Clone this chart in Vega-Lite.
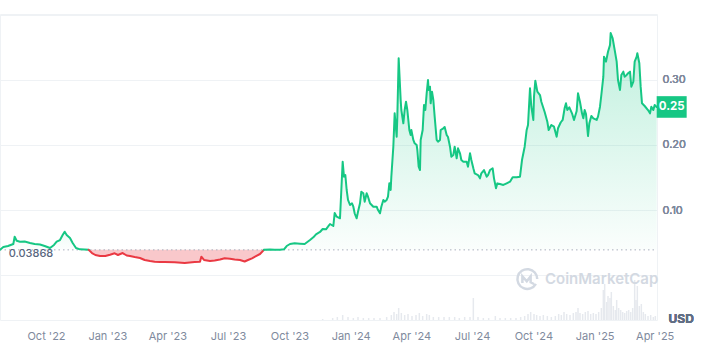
{
  "$schema": "https://vega.github.io/schema/vega-lite/v6.json",
  "width": 657,
  "height": 306,
  "autosize": {"type": "none"},
  "padding": {"left": 0, "top": 14, "right": 50, "bottom": 36},
  "background": "white",
  "config": {"view": {"stroke": "#eff2f5"}, "font": "Inter"},
  "data": {"values": [
      {"date": "2022-07-24", "price": 0.0388, "seg": "g1"},
      {"date": "2022-07-29", "price": 0.0431, "seg": "g1"},
      {"date": "2022-08-05", "price": 0.0446, "seg": "g1"},
      {"date": "2022-08-13", "price": 0.0477, "seg": "g1"},
      {"date": "2022-08-15", "price": 0.0589, "seg": "g1"},
      {"date": "2022-08-18", "price": 0.0528, "seg": "g1"},
      {"date": "2022-08-23", "price": 0.0512, "seg": "g1"},
      {"date": "2022-08-30", "price": 0.0515, "seg": "g1"},
      {"date": "2022-09-07", "price": 0.0492, "seg": "g1"},
      {"date": "2022-09-14", "price": 0.0477, "seg": "g1"},
      {"date": "2022-09-22", "price": 0.0469, "seg": "g1"},
      {"date": "2022-09-29", "price": 0.0446, "seg": "g1"},
      {"date": "2022-10-07", "price": 0.0415, "seg": "g1"},
      {"date": "2022-10-13", "price": 0.0462, "seg": "g1"},
      {"date": "2022-10-17", "price": 0.0512, "seg": "g1"},
      {"date": "2022-10-22", "price": 0.0538, "seg": "g1"},
      {"date": "2022-10-26", "price": 0.0615, "seg": "g1"},
      {"date": "2022-10-29", "price": 0.0666, "seg": "g1"},
      {"date": "2022-11-01", "price": 0.0615, "seg": "g1"},
      {"date": "2022-11-06", "price": 0.0569, "seg": "g1"},
      {"date": "2022-11-10", "price": 0.0492, "seg": "g1"},
      {"date": "2022-11-15", "price": 0.0415, "seg": "g1"},
      {"date": "2022-11-21", "price": 0.0395, "seg": "g1"},
      {"date": "2022-11-28", "price": 0.0392, "seg": "g1"},
      {"date": "2022-12-04", "price": 0.03868, "seg": "g1"},
      {"date": "2022-12-04", "price": 0.03868, "seg": "r"},
      {"date": "2022-12-09", "price": 0.0338, "seg": "r"},
      {"date": "2022-12-14", "price": 0.0308, "seg": "r"},
      {"date": "2022-12-21", "price": 0.0292, "seg": "r"},
      {"date": "2022-12-29", "price": 0.0292, "seg": "r"},
      {"date": "2023-01-05", "price": 0.0312, "seg": "r"},
      {"date": "2023-01-12", "price": 0.0334, "seg": "r"},
      {"date": "2023-01-17", "price": 0.0308, "seg": "r"},
      {"date": "2023-01-24", "price": 0.0338, "seg": "r"},
      {"date": "2023-01-30", "price": 0.0300, "seg": "r"},
      {"date": "2023-02-04", "price": 0.0292, "seg": "r"},
      {"date": "2023-02-11", "price": 0.0277, "seg": "r"},
      {"date": "2023-02-19", "price": 0.0262, "seg": "r"},
      {"date": "2023-02-26", "price": 0.0231, "seg": "r"},
      {"date": "2023-03-06", "price": 0.0215, "seg": "r"},
      {"date": "2023-03-13", "price": 0.0205, "seg": "r"},
      {"date": "2023-03-21", "price": 0.0200, "seg": "r"},
      {"date": "2023-03-28", "price": 0.0200, "seg": "r"},
      {"date": "2023-04-12", "price": 0.0195, "seg": "r"},
      {"date": "2023-04-27", "price": 0.0185, "seg": "r"},
      {"date": "2023-05-12", "price": 0.0200, "seg": "r"},
      {"date": "2023-05-20", "price": 0.0205, "seg": "r"},
      {"date": "2023-05-22", "price": 0.0282, "seg": "r"},
      {"date": "2023-05-26", "price": 0.0231, "seg": "r"},
      {"date": "2023-06-04", "price": 0.0215, "seg": "r"},
      {"date": "2023-06-11", "price": 0.0223, "seg": "r"},
      {"date": "2023-06-19", "price": 0.0238, "seg": "r"},
      {"date": "2023-06-26", "price": 0.0257, "seg": "r"},
      {"date": "2023-07-04", "price": 0.0251, "seg": "r"},
      {"date": "2023-07-11", "price": 0.0238, "seg": "r"},
      {"date": "2023-07-19", "price": 0.0231, "seg": "r"},
      {"date": "2023-07-26", "price": 0.0208, "seg": "r"},
      {"date": "2023-07-31", "price": 0.0231, "seg": "r"},
      {"date": "2023-08-06", "price": 0.0257, "seg": "r"},
      {"date": "2023-08-12", "price": 0.0292, "seg": "r"},
      {"date": "2023-08-18", "price": 0.0323, "seg": "r"},
      {"date": "2023-08-24", "price": 0.03868, "seg": "r"},
      {"date": "2023-08-24", "price": 0.03868, "seg": "g2"},
      {"date": "2023-09-02", "price": 0.0392, "seg": "g2"},
      {"date": "2023-09-09", "price": 0.0390, "seg": "g2"},
      {"date": "2023-09-17", "price": 0.0389, "seg": "g2"},
      {"date": "2023-09-23", "price": 0.0395, "seg": "g2"},
      {"date": "2023-09-27", "price": 0.0446, "seg": "g2"},
      {"date": "2023-10-02", "price": 0.0477, "seg": "g2"},
      {"date": "2023-10-09", "price": 0.0488, "seg": "g2"},
      {"date": "2023-10-17", "price": 0.0482, "seg": "g2"},
      {"date": "2023-10-24", "price": 0.0477, "seg": "g2"},
      {"date": "2023-11-01", "price": 0.0538, "seg": "g2"},
      {"date": "2023-11-06", "price": 0.0580, "seg": "g2"},
      {"date": "2023-11-10", "price": 0.0626, "seg": "g2"},
      {"date": "2023-11-16", "price": 0.0662, "seg": "g2"},
      {"date": "2023-11-20", "price": 0.0708, "seg": "g2"},
      {"date": "2023-11-25", "price": 0.0703, "seg": "g2"},
      {"date": "2023-11-28", "price": 0.0743, "seg": "g2"},
      {"date": "2023-12-01", "price": 0.0785, "seg": "g2"},
      {"date": "2023-12-06", "price": 0.0754, "seg": "g2"},
      {"date": "2023-12-08", "price": 0.0954, "seg": "g2"},
      {"date": "2023-12-11", "price": 0.0897, "seg": "g2"},
      {"date": "2023-12-16", "price": 0.0872, "seg": "g2"},
      {"date": "2023-12-20", "price": 0.1743, "seg": "g2"},
      {"date": "2023-12-22", "price": 0.1512, "seg": "g2"},
      {"date": "2023-12-24", "price": 0.1538, "seg": "g2"},
      {"date": "2023-12-26", "price": 0.1308, "seg": "g2"},
      {"date": "2023-12-28", "price": 0.1154, "seg": "g2"},
      {"date": "2023-12-31", "price": 0.1077, "seg": "g2"},
      {"date": "2024-01-03", "price": 0.1103, "seg": "g2"},
      {"date": "2024-01-05", "price": 0.1051, "seg": "g2"},
      {"date": "2024-01-07", "price": 0.0949, "seg": "g2"},
      {"date": "2024-01-10", "price": 0.0872, "seg": "g2"},
      {"date": "2024-01-12", "price": 0.0974, "seg": "g2"},
      {"date": "2024-01-15", "price": 0.1103, "seg": "g2"},
      {"date": "2024-01-17", "price": 0.1282, "seg": "g2"},
      {"date": "2024-01-20", "price": 0.1257, "seg": "g2"},
      {"date": "2024-01-22", "price": 0.1128, "seg": "g2"},
      {"date": "2024-01-25", "price": 0.1257, "seg": "g2"},
      {"date": "2024-01-27", "price": 0.1205, "seg": "g2"},
      {"date": "2024-01-30", "price": 0.1103, "seg": "g2"},
      {"date": "2024-02-04", "price": 0.1051, "seg": "g2"},
      {"date": "2024-02-09", "price": 0.1051, "seg": "g2"},
      {"date": "2024-02-11", "price": 0.1000, "seg": "g2"},
      {"date": "2024-02-14", "price": 0.0949, "seg": "g2"},
      {"date": "2024-02-16", "price": 0.1051, "seg": "g2"},
      {"date": "2024-02-19", "price": 0.1154, "seg": "g2"},
      {"date": "2024-02-21", "price": 0.1128, "seg": "g2"},
      {"date": "2024-02-24", "price": 0.1154, "seg": "g2"},
      {"date": "2024-02-26", "price": 0.1205, "seg": "g2"},
      {"date": "2024-02-28", "price": 0.1410, "seg": "g2"},
      {"date": "2024-03-01", "price": 0.1308, "seg": "g2"},
      {"date": "2024-03-02", "price": 0.1512, "seg": "g2"},
      {"date": "2024-03-05", "price": 0.1974, "seg": "g2"},
      {"date": "2024-03-07", "price": 0.2487, "seg": "g2"},
      {"date": "2024-03-10", "price": 0.2128, "seg": "g2"},
      {"date": "2024-03-11", "price": 0.2436, "seg": "g2"},
      {"date": "2024-03-13", "price": 0.3334, "seg": "g2"},
      {"date": "2024-03-16", "price": 0.2692, "seg": "g2"},
      {"date": "2024-03-17", "price": 0.2538, "seg": "g2"},
      {"date": "2024-03-20", "price": 0.2334, "seg": "g2"},
      {"date": "2024-03-22", "price": 0.2538, "seg": "g2"},
      {"date": "2024-03-24", "price": 0.2666, "seg": "g2"},
      {"date": "2024-03-26", "price": 0.2538, "seg": "g2"},
      {"date": "2024-03-29", "price": 0.2231, "seg": "g2"},
      {"date": "2024-03-31", "price": 0.2154, "seg": "g2"},
      {"date": "2024-04-01", "price": 0.2231, "seg": "g2"},
      {"date": "2024-04-04", "price": 0.2077, "seg": "g2"},
      {"date": "2024-04-06", "price": 0.2026, "seg": "g2"},
      {"date": "2024-04-09", "price": 0.2000, "seg": "g2"},
      {"date": "2024-04-10", "price": 0.1923, "seg": "g2"},
      {"date": "2024-04-12", "price": 0.1666, "seg": "g2"},
      {"date": "2024-04-14", "price": 0.1615, "seg": "g2"},
      {"date": "2024-04-15", "price": 0.2077, "seg": "g2"},
      {"date": "2024-04-18", "price": 0.2231, "seg": "g2"},
      {"date": "2024-04-20", "price": 0.2615, "seg": "g2"},
      {"date": "2024-04-22", "price": 0.2538, "seg": "g2"},
      {"date": "2024-04-24", "price": 0.2795, "seg": "g2"},
      {"date": "2024-04-26", "price": 0.3000, "seg": "g2"},
      {"date": "2024-04-27", "price": 0.2846, "seg": "g2"},
      {"date": "2024-04-29", "price": 0.2897, "seg": "g2"},
      {"date": "2024-04-30", "price": 0.2641, "seg": "g2"},
      {"date": "2024-05-02", "price": 0.2820, "seg": "g2"},
      {"date": "2024-05-04", "price": 0.2692, "seg": "g2"},
      {"date": "2024-05-06", "price": 0.2436, "seg": "g2"},
      {"date": "2024-05-09", "price": 0.2077, "seg": "g2"},
      {"date": "2024-05-11", "price": 0.2051, "seg": "g2"},
      {"date": "2024-05-14", "price": 0.2077, "seg": "g2"},
      {"date": "2024-05-15", "price": 0.2231, "seg": "g2"},
      {"date": "2024-05-19", "price": 0.2257, "seg": "g2"},
      {"date": "2024-05-21", "price": 0.2277, "seg": "g2"},
      {"date": "2024-05-24", "price": 0.2154, "seg": "g2"},
      {"date": "2024-05-26", "price": 0.2123, "seg": "g2"},
      {"date": "2024-05-29", "price": 0.1974, "seg": "g2"},
      {"date": "2024-05-31", "price": 0.1820, "seg": "g2"},
      {"date": "2024-06-03", "price": 0.1846, "seg": "g2"},
      {"date": "2024-06-05", "price": 0.1974, "seg": "g2"},
      {"date": "2024-06-08", "price": 0.1795, "seg": "g2"},
      {"date": "2024-06-10", "price": 0.1949, "seg": "g2"},
      {"date": "2024-06-13", "price": 0.1872, "seg": "g2"},
      {"date": "2024-06-15", "price": 0.1769, "seg": "g2"},
      {"date": "2024-06-18", "price": 0.1743, "seg": "g2"},
      {"date": "2024-06-23", "price": 0.1743, "seg": "g2"},
      {"date": "2024-06-25", "price": 0.1666, "seg": "g2"},
      {"date": "2024-06-28", "price": 0.1872, "seg": "g2"},
      {"date": "2024-06-30", "price": 0.1769, "seg": "g2"},
      {"date": "2024-07-03", "price": 0.1641, "seg": "g2"},
      {"date": "2024-07-05", "price": 0.1564, "seg": "g2"},
      {"date": "2024-07-10", "price": 0.1538, "seg": "g2"},
      {"date": "2024-07-13", "price": 0.1487, "seg": "g2"},
      {"date": "2024-07-15", "price": 0.1564, "seg": "g2"},
      {"date": "2024-07-19", "price": 0.1615, "seg": "g2"},
      {"date": "2024-07-23", "price": 0.1512, "seg": "g2"},
      {"date": "2024-07-25", "price": 0.1538, "seg": "g2"},
      {"date": "2024-07-28", "price": 0.1615, "seg": "g2"},
      {"date": "2024-08-01", "price": 0.1641, "seg": "g2"},
      {"date": "2024-08-03", "price": 0.1487, "seg": "g2"},
      {"date": "2024-08-06", "price": 0.1334, "seg": "g2"},
      {"date": "2024-08-08", "price": 0.1410, "seg": "g2"},
      {"date": "2024-08-12", "price": 0.1400, "seg": "g2"},
      {"date": "2024-08-17", "price": 0.1385, "seg": "g2"},
      {"date": "2024-08-22", "price": 0.1410, "seg": "g2"},
      {"date": "2024-08-27", "price": 0.1435, "seg": "g2"},
      {"date": "2024-08-31", "price": 0.1503, "seg": "g2"},
      {"date": "2024-09-06", "price": 0.1503, "seg": "g2"},
      {"date": "2024-09-11", "price": 0.1512, "seg": "g2"},
      {"date": "2024-09-14", "price": 0.1769, "seg": "g2"},
      {"date": "2024-09-18", "price": 0.1974, "seg": "g2"},
      {"date": "2024-09-21", "price": 0.2231, "seg": "g2"},
      {"date": "2024-09-23", "price": 0.2308, "seg": "g2"},
      {"date": "2024-09-26", "price": 0.2872, "seg": "g2"},
      {"date": "2024-09-28", "price": 0.2589, "seg": "g2"},
      {"date": "2024-10-01", "price": 0.2385, "seg": "g2"},
      {"date": "2024-10-02", "price": 0.2743, "seg": "g2"},
      {"date": "2024-10-04", "price": 0.2989, "seg": "g2"},
      {"date": "2024-10-07", "price": 0.2820, "seg": "g2"},
      {"date": "2024-10-11", "price": 0.2769, "seg": "g2"},
      {"date": "2024-10-13", "price": 0.2666, "seg": "g2"},
      {"date": "2024-10-18", "price": 0.2508, "seg": "g2"},
      {"date": "2024-10-22", "price": 0.2358, "seg": "g2"},
      {"date": "2024-10-24", "price": 0.2231, "seg": "g2"},
      {"date": "2024-10-28", "price": 0.2308, "seg": "g2"},
      {"date": "2024-11-01", "price": 0.2282, "seg": "g2"},
      {"date": "2024-11-05", "price": 0.2128, "seg": "g2"},
      {"date": "2024-11-07", "price": 0.2257, "seg": "g2"},
      {"date": "2024-11-11", "price": 0.2346, "seg": "g2"},
      {"date": "2024-11-14", "price": 0.2385, "seg": "g2"},
      {"date": "2024-11-17", "price": 0.2569, "seg": "g2"},
      {"date": "2024-11-19", "price": 0.2641, "seg": "g2"},
      {"date": "2024-11-21", "price": 0.2538, "seg": "g2"},
      {"date": "2024-11-24", "price": 0.2580, "seg": "g2"},
      {"date": "2024-11-28", "price": 0.2487, "seg": "g2"},
      {"date": "2024-12-01", "price": 0.2385, "seg": "g2"},
      {"date": "2024-12-05", "price": 0.2523, "seg": "g2"},
      {"date": "2024-12-07", "price": 0.2795, "seg": "g2"},
      {"date": "2024-12-10", "price": 0.2662, "seg": "g2"},
      {"date": "2024-12-13", "price": 0.2487, "seg": "g2"},
      {"date": "2024-12-15", "price": 0.2410, "seg": "g2"},
      {"date": "2024-12-17", "price": 0.2538, "seg": "g2"},
      {"date": "2024-12-19", "price": 0.2477, "seg": "g2"},
      {"date": "2024-12-22", "price": 0.2138, "seg": "g2"},
      {"date": "2024-12-24", "price": 0.2334, "seg": "g2"},
      {"date": "2024-12-27", "price": 0.2446, "seg": "g2"},
      {"date": "2024-12-30", "price": 0.2410, "seg": "g2"},
      {"date": "2025-01-04", "price": 0.2385, "seg": "g2"},
      {"date": "2025-01-06", "price": 0.2436, "seg": "g2"},
      {"date": "2025-01-09", "price": 0.2589, "seg": "g2"},
      {"date": "2025-01-11", "price": 0.2769, "seg": "g2"},
      {"date": "2025-01-14", "price": 0.3051, "seg": "g2"},
      {"date": "2025-01-15", "price": 0.3359, "seg": "g2"},
      {"date": "2025-01-18", "price": 0.3282, "seg": "g2"},
      {"date": "2025-01-21", "price": 0.3435, "seg": "g2"},
      {"date": "2025-01-24", "price": 0.3538, "seg": "g2"},
      {"date": "2025-01-25", "price": 0.3723, "seg": "g2"},
      {"date": "2025-01-28", "price": 0.3641, "seg": "g2"},
      {"date": "2025-01-31", "price": 0.3462, "seg": "g2"},
      {"date": "2025-02-03", "price": 0.3282, "seg": "g2"},
      {"date": "2025-02-05", "price": 0.3000, "seg": "g2"},
      {"date": "2025-02-08", "price": 0.2846, "seg": "g2"},
      {"date": "2025-02-10", "price": 0.3077, "seg": "g2"},
      {"date": "2025-02-13", "price": 0.3128, "seg": "g2"},
      {"date": "2025-02-15", "price": 0.3051, "seg": "g2"},
      {"date": "2025-02-18", "price": 0.3077, "seg": "g2"},
      {"date": "2025-02-20", "price": 0.3103, "seg": "g2"},
      {"date": "2025-02-23", "price": 0.3128, "seg": "g2"},
      {"date": "2025-02-25", "price": 0.2897, "seg": "g2"},
      {"date": "2025-02-28", "price": 0.2974, "seg": "g2"},
      {"date": "2025-03-02", "price": 0.3282, "seg": "g2"},
      {"date": "2025-03-05", "price": 0.3359, "seg": "g2"},
      {"date": "2025-03-06", "price": 0.3411, "seg": "g2"},
      {"date": "2025-03-09", "price": 0.3257, "seg": "g2"},
      {"date": "2025-03-11", "price": 0.2897, "seg": "g2"},
      {"date": "2025-03-13", "price": 0.2641, "seg": "g2"},
      {"date": "2025-03-17", "price": 0.2600, "seg": "g2"},
      {"date": "2025-03-22", "price": 0.2538, "seg": "g2"},
      {"date": "2025-03-25", "price": 0.2487, "seg": "g2"},
      {"date": "2025-03-27", "price": 0.2589, "seg": "g2"},
      {"date": "2025-03-30", "price": 0.2538, "seg": "g2"},
      {"date": "2025-04-01", "price": 0.2615, "seg": "g2"},
      {"date": "2025-04-04", "price": 0.2585, "seg": "g2"}
  ]},
  "datasets": {
    "vol": [
      {"date": "2023-11-20", "vol": 1}, {"date": "2023-12-05", "vol": 2}, {"date": "2023-12-12", "vol": 3},
      {"date": "2023-12-20", "vol": 5}, {"date": "2023-12-28", "vol": 3}, {"date": "2024-01-05", "vol": 2},
      {"date": "2024-01-12", "vol": 3}, {"date": "2024-01-20", "vol": 2}, {"date": "2024-01-28", "vol": 2},
      {"date": "2024-02-05", "vol": 2}, {"date": "2024-02-14", "vol": 2}, {"date": "2024-02-24", "vol": 3},
      {"date": "2024-03-02", "vol": 5}, {"date": "2024-03-06", "vol": 8}, {"date": "2024-03-10", "vol": 6},
      {"date": "2024-03-13", "vol": 12}, {"date": "2024-03-17", "vol": 7}, {"date": "2024-03-22", "vol": 5},
      {"date": "2024-03-27", "vol": 6}, {"date": "2024-04-02", "vol": 4}, {"date": "2024-04-08", "vol": 5},
      {"date": "2024-04-13", "vol": 7}, {"date": "2024-04-18", "vol": 4}, {"date": "2024-04-24", "vol": 6},
      {"date": "2024-04-28", "vol": 5}, {"date": "2024-05-04", "vol": 3}, {"date": "2024-05-12", "vol": 3},
      {"date": "2024-05-20", "vol": 3}, {"date": "2024-05-28", "vol": 3}, {"date": "2024-06-05", "vol": 3},
      {"date": "2024-06-12", "vol": 2}, {"date": "2024-06-20", "vol": 3}, {"date": "2024-06-28", "vol": 3},
      {"date": "2024-07-03", "vol": 22}, {"date": "2024-07-10", "vol": 3}, {"date": "2024-07-18", "vol": 2},
      {"date": "2024-07-26", "vol": 2}, {"date": "2024-08-05", "vol": 4}, {"date": "2024-08-12", "vol": 2},
      {"date": "2024-08-20", "vol": 2}, {"date": "2024-08-28", "vol": 2}, {"date": "2024-09-05", "vol": 2},
      {"date": "2024-09-12", "vol": 3}, {"date": "2024-09-18", "vol": 4}, {"date": "2024-09-23", "vol": 6},
      {"date": "2024-09-27", "vol": 8}, {"date": "2024-10-02", "vol": 6}, {"date": "2024-10-06", "vol": 5},
      {"date": "2024-10-11", "vol": 4}, {"date": "2024-10-16", "vol": 5}, {"date": "2024-10-22", "vol": 4},
      {"date": "2024-10-28", "vol": 3}, {"date": "2024-11-03", "vol": 4}, {"date": "2024-11-08", "vol": 6},
      {"date": "2024-11-12", "vol": 5}, {"date": "2024-11-16", "vol": 8}, {"date": "2024-11-20", "vol": 6},
      {"date": "2024-11-25", "vol": 5}, {"date": "2024-11-30", "vol": 7}, {"date": "2024-12-04", "vol": 8},
      {"date": "2024-12-07", "vol": 12}, {"date": "2024-12-10", "vol": 7}, {"date": "2024-12-14", "vol": 6},
      {"date": "2024-12-18", "vol": 8}, {"date": "2024-12-22", "vol": 9}, {"date": "2024-12-26", "vol": 6},
      {"date": "2024-12-30", "vol": 7}, {"date": "2025-01-03", "vol": 6}, {"date": "2025-01-07", "vol": 8},
      {"date": "2025-01-11", "vol": 12}, {"date": "2025-01-14", "vol": 30}, {"date": "2025-01-16", "vol": 36},
      {"date": "2025-01-19", "vol": 18}, {"date": "2025-01-21", "vol": 24}, {"date": "2025-01-24", "vol": 22},
      {"date": "2025-01-26", "vol": 28}, {"date": "2025-01-29", "vol": 14}, {"date": "2025-02-01", "vol": 10},
      {"date": "2025-02-03", "vol": 20}, {"date": "2025-02-06", "vol": 12}, {"date": "2025-02-09", "vol": 10},
      {"date": "2025-02-12", "vol": 8}, {"date": "2025-02-15", "vol": 7}, {"date": "2025-02-18", "vol": 9},
      {"date": "2025-02-21", "vol": 10}, {"date": "2025-02-24", "vol": 8}, {"date": "2025-02-27", "vol": 12},
      {"date": "2025-03-02", "vol": 40}, {"date": "2025-03-04", "vol": 20}, {"date": "2025-03-06", "vol": 34},
      {"date": "2025-03-09", "vol": 14}, {"date": "2025-03-12", "vol": 16}, {"date": "2025-03-15", "vol": 8},
      {"date": "2025-03-18", "vol": 6}, {"date": "2025-03-22", "vol": 4}, {"date": "2025-03-26", "vol": 5},
      {"date": "2025-03-30", "vol": 3}, {"date": "2025-04-02", "vol": 4}
    ]
  },
  "encoding": {
    "x": {
      "field": "date", "type": "temporal",
      "scale": {"type": "utc", "nice": false, "domain": [{"year": 2022, "month": 7, "date": 24, "utc": true}, {"year": 2025, "month": 4, "date": 4, "hours": 12, "utc": true}]},
      "axis": {
        "values": [
          {"year": 2022, "month": 10, "date": 1, "utc": true},
          {"year": 2023, "month": 1, "date": 1, "utc": true},
          {"year": 2023, "month": 4, "date": 1, "utc": true},
          {"year": 2023, "month": 7, "date": 1, "utc": true},
          {"year": 2023, "month": 10, "date": 1, "utc": true},
          {"year": 2024, "month": 1, "date": 1, "utc": true},
          {"year": 2024, "month": 4, "date": 1, "utc": true},
          {"year": 2024, "month": 7, "date": 1, "utc": true},
          {"year": 2024, "month": 10, "date": 1, "utc": true},
          {"year": 2025, "month": 1, "date": 1, "utc": true},
          {"year": 2025, "month": 4, "date": 1, "utc": true}
        ],
        "format": "%b '%y",
        "grid": false, "domain": false, "ticks": false,
        "labelPadding": 10, "labelFontSize": 11, "labelColor": "#808a9d",
        "labelFlush": false, "labelOverlap": false, "title": null
      }
    },
    "y": {
      "field": "price", "type": "quantitative",
      "scale": {"domain": [-0.0692, 0.4015], "nice": false, "zero": false},
      "axis": {
        "orient": "right",
        "values": [0, 0.1, 0.2, 0.3, 0.4],
        "labelExpr": "datum.value > 0.05 && datum.value < 0.35 ? format(datum.value, '.2f') : ''",
        "grid": true, "gridColor": "#eff2f5", "gridWidth": 1,
        "domain": false, "ticks": false,
        "labelPadding": 5, "labelFontSize": 11, "labelColor": "#808a9d",
        "title": "USD", "titleAngle": 0, "titleAlign": "left", "titleBaseline": "middle",
        "titleX": 11, "titleY": 304, "titleFontSize": 12, "titleFontWeight": "bold", "titleColor": "#616e85"
      }
    }
  },
  "layer": [
    {
      "data": {"name": "vol"},
      "mark": {"type": "rule", "color": "#e6e9ee", "strokeWidth": 1.5},
      "encoding": {
        "y": {"field": "vol", "type": "quantitative", "scale": {"domain": [0, 306], "nice": false}, "axis": null},
        "y2": {"datum": 0}
      }
    },
    {
      "transform": [{"filter": "datum.seg === 'g2'"}],
      "mark": {
        "type": "area",
        "color": {"gradient": "linear", "x1": 0, "y1": 1, "x2": 0, "y2": 0,
          "stops": [{"offset": 0, "color": "rgba(22,199,132,0.02)"}, {"offset": 1, "color": "rgba(22,199,132,0.28)"}]}
      },
      "encoding": {"y2": {"datum": 0.03868}}
    },
    {
      "transform": [{"filter": "datum.seg === 'g1'"}],
      "mark": {
        "type": "area",
        "color": {"gradient": "linear", "x1": 0, "y1": 1, "x2": 0, "y2": 0,
          "stops": [{"offset": 0, "color": "rgba(22,199,132,0.01)"}, {"offset": 1, "color": "rgba(22,199,132,0.07)"}]}
      },
      "encoding": {"y2": {"datum": 0.03868}}
    },
    {
      "transform": [{"filter": "datum.seg === 'r'"}],
      "mark": {"type": "area", "color": "#ea3943", "opacity": 0.28},
      "encoding": {"y2": {"datum": 0.03868}}
    },
    {
      "transform": [{"filter": "datum.price === 0.2585"}],
      "mark": {"type": "rule", "color": "#a9b0be", "strokeWidth": 1, "strokeDash": [1.5, 3]},
      "encoding": {
        "x": {"value": 0}, "x2": {"value": 657},
        "y": {"datum": 0.03868, "scale": {"domain": [-0.0692, 0.4015], "nice": false, "zero": false}, "axis": null}
      }
    },
    {
      "mark": {"type": "line", "strokeWidth": 2, "strokeJoin": "round", "strokeCap": "round"},
      "encoding": {
        "color": {"field": "seg", "type": "nominal", "scale": {"domain": ["g1", "r", "g2"], "range": ["#16c784", "#ea3943", "#16c784"]}, "legend": null}
      }
    },
    {
      "transform": [{"filter": "datum.price === 0.2585"}],
      "mark": {"type": "text", "text": "0.03868", "align": "left", "baseline": "middle", "dy": 4, "fontSize": 11, "fontWeight": 500, "color": "#58667e"},
      "encoding": {
        "x": {"datum": {"year": 2022, "month": 8, "date": 6, "utc": true}, "type": "temporal"},
        "y": {"datum": 0.03868, "scale": {"domain": [-0.0692, 0.4015], "nice": false, "zero": false}, "axis": null}
      }
    },
    {
      "transform": [{"filter": "datum.price === 0.2585"}],
      "mark": {"type": "text", "text": "CoinMarketCap", "align": "left", "baseline": "middle", "fontSize": 15, "fontWeight": 600, "color": "#d3d9e2"},
      "encoding": {
        "x": {"datum": {"year": 2024, "month": 10, "date": 18, "hours": 12, "utc": true}, "type": "temporal"},
        "y": {"datum": -0.0062, "scale": {"domain": [-0.0692, 0.4015], "nice": false, "zero": false}, "axis": null}
      }
    },
    {
      "transform": [{"filter": "datum.price === 0.2585"}],
      "mark": {"type": "point", "filled": false, "size": 484, "strokeWidth": 2.5, "color": "#d3d9e2", "opacity": 1,
        "shape": "M0.78,0.45 A0.9,0.9 0 1 1 0.9,0 M-0.45,0.35 L-0.45,-0.25 L-0.05,0.2 L0.3,-0.25 L0.3,0.3 L0.6,0.45"},
      "encoding": {
        "x": {"datum": {"year": 2024, "month": 9, "date": 22, "utc": true}, "type": "temporal"},
        "y": {"datum": -0.0062, "scale": {"domain": [-0.0692, 0.4015], "nice": false, "zero": false}, "axis": null}
      }
    },
    {
      "transform": [{"filter": "datum.price === 0.2585"}],
      "mark": {"type": "point", "filled": true, "size": 900, "color": "#16c784", "opacity": 1, "xOffset": 15,
        "shape": "M-1,-0.72 L1,-0.72 L1,0.72 L-1,0.72 Z"},
      "encoding": {
        "y": {"field": "price", "type": "quantitative", "scale": {"domain": [-0.0692, 0.4015], "nice": false, "zero": false}, "axis": null}
      }
    },
    {
      "transform": [{"filter": "datum.price === 0.2585"}],
      "mark": {"type": "text", "text": "0.25", "align": "center", "baseline": "middle", "dx": 15, "fontSize": 11.5, "fontWeight": "bold", "color": "white"},
      "encoding": {
        "y": {"field": "price", "type": "quantitative", "scale": {"domain": [-0.0692, 0.4015], "nice": false, "zero": false}, "axis": null}
      }
    }
  ],
  "resolve": {"scale": {"y": "independent"}, "axis": {"y": "independent"}}
}
